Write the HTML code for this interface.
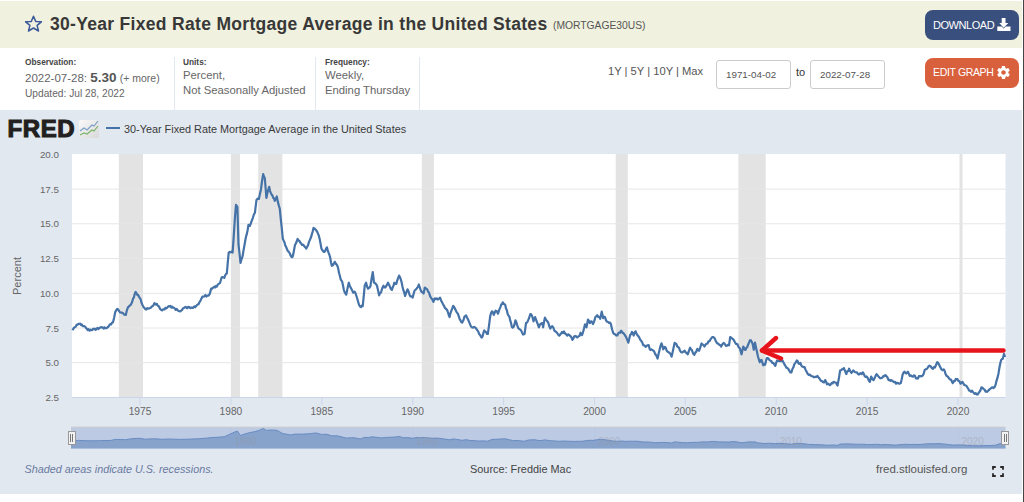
<!DOCTYPE html>
<html><head><meta charset="utf-8">
<style>
html,body{margin:0;padding:0;}
body{width:1024px;height:502px;position:relative;overflow:hidden;background:#fff;font-family:"Liberation Sans",sans-serif;color:#333;}
.a{position:absolute;white-space:nowrap;}
#hdr{left:0;top:1px;width:1022px;height:47px;background:#f0f1de;}
#vline{left:1023px;top:0;width:1px;height:502px;background:#444;}
#title{left:50px;top:13px;font-size:17.5px;font-weight:bold;color:#383838;letter-spacing:0.31px;line-height:22px;}
#sid{left:553px;top:19px;font-size:10.3px;color:#555;line-height:14px;}
.btn{left:925px;width:94px;height:30px;border-radius:8px;color:#fff;}
#dl{top:10px;background:#394f7d;}
#eg{top:58px;background:#d9603d;}
.btn span{position:absolute;left:8px;top:8px;font-size:11px;line-height:14px;letter-spacing:-0.45px;}
.lbl{font-size:8.3px;font-weight:bold;color:#444;line-height:10px;}
.val{font-size:11.3px;color:#666;line-height:15px;}
.sep{width:1px;background:#e3e8ee;}
#chart{left:0;top:110px;width:1022px;height:384px;background:#e1e8f0;}
.inp{top:60px;width:75px;height:29px;border:1px solid #ccc;border-radius:3px;background:#fff;box-sizing:border-box;}
.inp span{position:absolute;left:9px;top:8px;font-size:9.8px;color:#555;line-height:12px;}
</style></head><body>
<div id="hdr" class="a"></div>
<div id="vline" class="a"></div>
<svg class="a" style="left:24px;top:15px" width="19" height="18" viewBox="0 0 19 18"><path d="M9.5,1.2 L11.7,6.4 L17.4,6.8 L13.1,10.4 L14.5,16.0 L9.5,13.0 L4.5,16.0 L5.9,10.4 L1.6,6.8 L7.3,6.4 Z" fill="none" stroke="#3b5a9a" stroke-width="1.5" stroke-linejoin="round"/></svg>
<div id="title" class="a">30-Year Fixed Rate Mortgage Average in the United States</div>
<div id="sid" class="a">(MORTGAGE30US)</div>
<div id="dl" class="a btn"><span>DOWNLOAD</span>
<svg class="a" style="left:72px;top:8px" width="14" height="13" viewBox="0 0 14 13"><path d="M4.7,0 H8.5 V5 H11.4 L6.6,9.8 L2.3,5 H4.7 Z" fill="#fff"/><path d="M0.3,8.6 H4.6 L6.6,10.6 L8.6,8.6 H13.5 V12.9 H0.3 Z" fill="#fff"/></svg></div>
<div id="eg" class="a btn"><span style="font-size:10.5px;letter-spacing:-0.35px;top:6.5px">EDIT GRAPH</span>
<svg class="a" style="left:72px;top:8px" width="13" height="13" viewBox="2 2 20 20"><path fill="#fff" d="M19.4,13 C19.5,12.7 19.5,12.3 19.5,12 C19.5,11.7 19.5,11.3 19.4,11 L21.5,9.4 C21.7,9.2 21.7,9 21.6,8.8 L19.6,5.3 C19.5,5.1 19.2,5 19,5.1 L16.5,6.1 C16,5.7 15.4,5.4 14.8,5.1 L14.4,2.5 C14.4,2.2 14.2,2 14,2 H10 C9.8,2 9.6,2.2 9.5,2.4 L9.1,5.1 C8.5,5.3 8,5.7 7.4,6.1 L5,5.1 C4.8,5 4.5,5.1 4.4,5.3 L2.4,8.8 C2.3,9 2.3,9.2 2.5,9.4 L4.6,11 C4.5,11.3 4.5,11.7 4.5,12 C4.5,12.3 4.5,12.7 4.6,13 L2.5,14.6 C2.3,14.8 2.3,15 2.4,15.2 L4.4,18.7 C4.5,18.9 4.8,19 5,18.9 L7.5,17.9 C8,18.3 8.6,18.6 9.2,18.9 L9.6,21.5 C9.6,21.8 9.8,22 10,22 H14 C14.2,22 14.4,21.8 14.5,21.6 L14.9,18.9 C15.5,18.7 16,18.3 16.6,17.9 L19,18.9 C19.2,19 19.5,18.9 19.6,18.7 L21.6,15.2 C21.7,15 21.7,14.8 21.5,14.6 Z M12,15.5 C10.1,15.5 8.5,13.9 8.5,12 C8.5,10.1 10.1,8.5 12,8.5 C13.9,8.5 15.5,10.1 15.5,12 C15.5,13.9 13.9,15.5 12,15.5 Z"/></svg></div>

<div class="a lbl" style="left:25px;top:57px">Observation:</div>
<div class="a" style="left:25px;top:70px;font-size:11.5px;color:#666;line-height:15px">2022-07-28: <span style="font-size:13.5px;font-weight:bold;color:#555">5.30</span> <span style="font-size:10.5px">(+ more)</span></div>
<div class="a" style="left:25px;top:88px;font-size:10.2px;color:#666;line-height:12px">Updated: Jul 28, 2022</div>
<div class="a sep" style="left:174px;top:57px;height:54px"></div>
<div class="a lbl" style="left:183px;top:57px">Units:</div>
<div class="a val" style="left:183px;top:68px">Percent,<br>Not Seasonally Adjusted</div>
<div class="a sep" style="left:315px;top:57px;height:54px"></div>
<div class="a lbl" style="left:325px;top:57px">Frequency:</div>
<div class="a val" style="left:325px;top:68px">Weekly,<br>Ending Thursday</div>
<div class="a sep" style="left:419px;top:57px;height:54px"></div>

<div class="a" style="left:608px;top:65px;font-size:11.2px;color:#555;line-height:12px">1Y | 5Y | 10Y | Max</div>
<div class="a inp" style="left:716px"><span>1971-04-02</span></div>
<div class="a" style="left:796px;top:66px;font-size:11px;color:#333;line-height:12px">to</div>
<div class="a inp" style="left:810px"><span>2022-07-28</span></div>

<div id="chart" class="a"></div>
<svg class="a" style="left:0;top:0" width="1024" height="502" viewBox="0 0 1024 502">
<rect x="72" y="154" width="933.5" height="243" fill="#fff"/>
<rect x="118.8" y="154" width="24.2" height="243" fill="#e3e3e3"/><rect x="230.9" y="154" width="9.1" height="243" fill="#e3e3e3"/><rect x="258.2" y="154" width="24.2" height="243" fill="#e3e3e3"/><rect x="421.8" y="154" width="12.1" height="243" fill="#e3e3e3"/><rect x="615.7" y="154" width="12.1" height="243" fill="#e3e3e3"/><rect x="738.4" y="154" width="27.3" height="243" fill="#e3e3e3"/><rect x="959.5" y="154" width="3.0" height="243" fill="#e3e3e3"/>
<line x1="72" x2="1005.5" y1="362.7" y2="362.7" stroke="#e6e6e6" stroke-width="1"/><line x1="72" x2="1005.5" y1="328.0" y2="328.0" stroke="#e6e6e6" stroke-width="1"/><line x1="72" x2="1005.5" y1="293.3" y2="293.3" stroke="#e6e6e6" stroke-width="1"/><line x1="72" x2="1005.5" y1="258.5" y2="258.5" stroke="#e6e6e6" stroke-width="1"/><line x1="72" x2="1005.5" y1="223.8" y2="223.8" stroke="#e6e6e6" stroke-width="1"/><line x1="72" x2="1005.5" y1="189.1" y2="189.1" stroke="#e6e6e6" stroke-width="1"/>
<line x1="72" x2="1005.5" y1="397.5" y2="397.5" stroke="#ccd6eb" stroke-width="1"/>
<g font-family="Liberation Sans" font-size="9.8" fill="#666"><text x="59" y="401.0" text-anchor="end">2.5</text><text x="59" y="366.3" text-anchor="end">5.0</text><text x="59" y="331.6" text-anchor="end">7.5</text><text x="59" y="296.9" text-anchor="end">10.0</text><text x="59" y="262.1" text-anchor="end">12.5</text><text x="59" y="227.4" text-anchor="end">15.0</text><text x="59" y="192.7" text-anchor="end">17.5</text><text x="59" y="158.0" text-anchor="end">20.0</text></g>
<g font-family="Liberation Sans" font-size="10.2" fill="#666"><line x1="140.0" x2="140.0" y1="397" y2="405" stroke="#ccd6eb" stroke-width="1"/><text x="140.0" y="414.5" text-anchor="middle">1975</text><line x1="230.9" x2="230.9" y1="397" y2="405" stroke="#ccd6eb" stroke-width="1"/><text x="230.9" y="414.5" text-anchor="middle">1980</text><line x1="321.8" x2="321.8" y1="397" y2="405" stroke="#ccd6eb" stroke-width="1"/><text x="321.8" y="414.5" text-anchor="middle">1985</text><line x1="412.7" x2="412.7" y1="397" y2="405" stroke="#ccd6eb" stroke-width="1"/><text x="412.7" y="414.5" text-anchor="middle">1990</text><line x1="503.6" x2="503.6" y1="397" y2="405" stroke="#ccd6eb" stroke-width="1"/><text x="503.6" y="414.5" text-anchor="middle">1995</text><line x1="594.5" x2="594.5" y1="397" y2="405" stroke="#ccd6eb" stroke-width="1"/><text x="594.5" y="414.5" text-anchor="middle">2000</text><line x1="685.3" x2="685.3" y1="397" y2="405" stroke="#ccd6eb" stroke-width="1"/><text x="685.3" y="414.5" text-anchor="middle">2005</text><line x1="776.2" x2="776.2" y1="397" y2="405" stroke="#ccd6eb" stroke-width="1"/><text x="776.2" y="414.5" text-anchor="middle">2010</text><line x1="867.1" x2="867.1" y1="397" y2="405" stroke="#ccd6eb" stroke-width="1"/><text x="867.1" y="414.5" text-anchor="middle">2015</text><line x1="958.0" x2="958.0" y1="397" y2="405" stroke="#ccd6eb" stroke-width="1"/><text x="958.0" y="414.5" text-anchor="middle">2020</text></g>
<text x="21" y="276" transform="rotate(-90 21 276)" text-anchor="middle" font-family="Liberation Sans" font-size="11" fill="#666">Percent</text>
<path d="M72.5,330.3 L73.3,328.9 L74.1,327.5 L74.9,327.2 L75.8,326.6 L76.8,324.6 L77.7,324.6 L78.6,323.7 L79.4,323.9 L80.2,323.7 L81.0,325.0 L81.8,324.5 L82.6,325.8 L83.4,326.2 L84.2,326.1 L85.1,326.7 L85.9,327.9 L86.7,328.6 L87.6,330.0 L88.6,329.2 L89.5,330.7 L90.4,329.7 L91.2,330.1 L92.1,330.2 L93.0,328.9 L93.9,329.1 L94.8,328.7 L95.6,329.9 L96.5,329.0 L97.4,327.8 L98.4,329.1 L99.3,328.0 L100.2,327.6 L101.0,327.3 L101.9,327.2 L102.7,327.6 L103.6,328.6 L104.4,327.3 L105.3,328.1 L106.1,328.2 L107.0,327.9 L107.8,326.9 L108.6,326.6 L109.5,324.9 L110.3,324.2 L111.1,324.4 L112.0,322.8 L113.0,322.3 L114.2,317.4 L115.3,311.8 L116.3,310.2 L117.4,308.8 L118.3,309.7 L119.3,311.4 L120.2,312.5 L121.1,312.6 L122.1,312.6 L123.0,313.2 L123.9,314.4 L124.9,314.7 L125.8,314.9 L126.8,310.6 L127.9,307.4 L128.8,306.6 L129.7,305.5 L130.5,305.2 L131.4,303.5 L132.2,301.7 L133.1,298.5 L133.9,297.6 L134.8,293.5 L135.6,292.0 L136.4,293.0 L137.2,294.9 L138.1,294.8 L138.9,296.7 L139.7,297.9 L140.6,299.1 L141.4,302.4 L142.3,304.7 L143.2,306.3 L144.2,307.8 L145.3,309.0 L146.2,309.5 L147.2,308.2 L148.1,308.7 L149.0,308.3 L150.0,308.1 L150.9,307.7 L151.8,306.5 L152.7,306.1 L153.5,305.2 L154.4,303.2 L155.2,303.7 L156.1,304.6 L156.9,304.0 L157.8,305.8 L158.6,306.0 L159.4,307.4 L160.3,309.2 L161.2,309.9 L162.0,310.4 L162.8,309.6 L163.7,309.4 L164.5,309.5 L165.4,307.8 L166.2,308.4 L167.1,307.8 L167.9,306.8 L168.8,306.2 L169.7,306.5 L170.5,305.9 L171.3,307.6 L172.2,306.7 L173.0,307.7 L173.9,307.7 L174.8,308.5 L175.7,309.9 L176.6,308.9 L177.5,310.1 L178.4,310.8 L179.3,311.2 L180.2,311.4 L181.1,310.6 L182.0,310.1 L183.0,308.3 L183.9,308.0 L184.8,307.2 L185.7,306.9 L186.5,307.9 L187.3,308.2 L188.1,306.9 L188.9,307.1 L189.7,307.4 L190.5,308.2 L191.3,307.5 L192.1,307.8 L192.9,307.9 L193.7,307.1 L194.5,306.4 L195.3,307.2 L196.1,306.1 L196.9,305.1 L197.7,304.5 L198.5,304.3 L199.3,302.5 L200.4,300.9 L201.4,298.6 L202.5,296.6 L203.4,296.6 L204.4,296.5 L205.3,295.0 L206.3,296.5 L207.2,295.5 L208.0,295.6 L208.8,295.4 L209.6,294.2 L211.2,288.6 L212.0,288.9 L212.8,287.8 L213.6,287.5 L214.4,286.6 L215.2,287.4 L216.0,285.9 L216.8,286.5 L217.9,284.5 L218.9,283.6 L220.0,283.0 L221.6,277.5 L222.5,277.0 L223.4,277.4 L224.3,277.9 L225.1,275.5 L226.0,274.0 L226.8,273.5 L227.8,262.4 L228.7,252.7 L229.7,251.9 L230.6,252.4 L231.6,251.7 L232.6,252.6 L233.4,241.4 L234.2,229.0 L235.0,216.8 L236.0,204.8 L237.4,206.8 L238.5,244.7 L239.5,253.1 L240.5,263.0 L241.5,259.3 L242.5,256.6 L243.3,251.7 L244.1,247.1 L244.9,242.7 L245.8,237.5 L246.7,234.4 L247.6,230.3 L248.5,224.8 L249.9,225.8 L250.9,223.1 L251.9,220.4 L252.9,217.8 L253.9,214.5 L254.9,212.8 L256.5,199.9 L257.7,198.6 L258.9,198.9 L259.9,194.1 L260.9,189.9 L262.0,181.5 L263.2,174.0 L264.0,176.7 L264.8,178.0 L266.4,197.9 L267.3,193.6 L268.3,189.6 L269.2,186.9 L270.0,190.8 L270.8,192.9 L271.6,194.6 L272.4,195.4 L273.2,197.8 L274.0,198.4 L274.8,200.9 L275.8,198.8 L276.8,196.5 L277.8,201.6 L278.8,205.4 L279.8,208.8 L280.8,219.2 L281.8,228.3 L282.8,238.7 L283.6,240.4 L284.4,242.0 L285.2,245.2 L286.0,246.8 L286.8,248.7 L287.8,251.0 L288.8,251.8 L289.7,253.3 L290.7,255.6 L291.5,257.0 L292.4,257.2 L293.3,254.1 L294.1,249.7 L295.0,244.9 L295.9,243.5 L296.7,241.5 L297.6,238.9 L298.5,240.6 L299.4,240.8 L300.2,242.5 L301.1,243.4 L302.0,244.9 L302.9,244.7 L303.7,245.4 L304.6,246.6 L305.4,247.3 L306.3,248.5 L307.2,246.7 L308.1,245.1 L309.0,241.9 L309.9,239.9 L310.8,237.8 L311.7,234.9 L312.6,231.8 L313.5,227.9 L314.7,228.6 L315.9,229.9 L316.9,231.3 L317.9,233.4 L318.9,235.9 L319.8,239.6 L320.6,244.0 L321.5,248.9 L322.4,250.1 L323.4,251.7 L324.3,251.9 L325.2,251.0 L326.0,248.8 L326.9,247.3 L327.7,250.1 L328.6,252.9 L329.4,254.8 L330.2,257.6 L331.0,262.5 L331.8,265.8 L332.8,265.3 L333.8,263.7 L334.8,261.8 L335.7,263.6 L336.5,264.4 L337.4,265.8 L338.2,268.6 L339.1,273.3 L339.9,275.9 L340.8,279.7 L342.2,281.7 L343.1,286.0 L343.9,290.0 L344.8,292.7 L346.2,294.7 L347.1,290.5 L347.9,286.5 L348.8,282.7 L349.8,285.9 L350.8,287.8 L351.8,289.7 L353.3,292.7 L354.7,291.7 L355.6,293.5 L356.4,296.0 L357.2,298.5 L358.1,301.7 L359.1,305.0 L360.1,306.6 L361.0,307.1 L361.8,305.6 L362.7,306.2 L363.7,296.6 L364.7,285.7 L366.1,282.7 L367.1,286.7 L368.1,288.7 L369.2,287.8 L370.4,286.3 L371.6,278.5 L372.8,272.0 L374.0,282.7 L374.9,283.0 L375.8,283.9 L377.0,285.7 L378.1,290.6 L379.1,295.3 L380.1,293.1 L381.1,292.3 L382.3,288.0 L383.5,285.7 L384.4,287.5 L385.3,287.5 L386.2,286.2 L387.1,284.4 L388.0,282.7 L389.5,285.7 L390.7,288.7 L391.9,289.9 L392.7,287.4 L393.5,285.8 L394.3,282.7 L395.3,284.0 L396.3,283.9 L397.2,280.6 L398.2,277.9 L399.1,275.6 L400.0,277.2 L400.9,279.7 L401.7,282.6 L402.5,286.7 L403.3,289.9 L404.2,292.4 L405.1,295.9 L406.3,292.4 L407.5,289.3 L408.5,291.3 L409.5,294.7 L410.5,296.5 L411.6,296.4 L412.6,297.7 L413.6,294.0 L414.6,290.5 L415.8,289.5 L417.0,288.1 L417.9,287.1 L418.8,284.5 L419.7,287.0 L420.6,289.9 L421.6,291.9 L422.6,292.3 L423.6,293.5 L424.8,287.5 L426.0,288.5 L427.2,289.3 L428.2,291.7 L429.2,293.1 L430.2,296.5 L431.3,298.2 L432.3,299.5 L433.4,301.9 L434.2,299.1 L435.0,298.3 L436.0,299.3 L437.0,298.4 L438.0,299.5 L439.1,298.5 L440.1,297.7 L441.2,300.8 L442.4,302.9 L443.2,304.6 L444.0,305.8 L444.8,307.7 L446.0,308.9 L447.2,310.1 L448.0,312.5 L448.8,315.3 L449.6,317.1 L450.5,313.1 L451.4,310.7 L452.3,308.4 L453.2,305.9 L454.0,306.8 L454.8,308.3 L455.6,310.1 L456.8,312.4 L457.9,313.7 L458.8,316.4 L459.7,319.1 L460.5,320.4 L461.3,322.0 L462.1,322.7 L463.3,320.5 L464.5,316.7 L465.3,316.0 L466.1,315.5 L467.0,317.5 L467.8,319.1 L468.7,320.9 L469.8,323.6 L470.9,326.3 L472.1,327.5 L473.1,327.6 L474.1,326.9 L475.0,327.4 L475.9,328.1 L476.7,329.4 L477.5,330.5 L478.3,331.7 L479.2,334.1 L480.1,335.0 L481.0,336.9 L481.9,337.6 L482.7,336.1 L483.5,332.4 L484.3,330.5 L485.2,331.5 L486.1,332.2 L487.0,334.0 L487.8,334.0 L489.0,325.7 L490.2,316.1 L491.1,313.0 L492.0,311.3 L492.9,312.3 L493.8,314.9 L494.7,312.7 L495.6,310.7 L496.8,311.3 L498.0,313.7 L499.2,309.9 L500.4,307.1 L501.2,304.6 L502.0,304.2 L502.8,302.3 L504.0,304.1 L505.2,304.7 L506.0,308.5 L506.8,310.0 L507.6,313.7 L508.5,315.6 L509.4,316.7 L510.2,320.4 L511.0,322.8 L511.8,326.9 L512.7,327.7 L513.6,326.9 L514.5,324.5 L515.4,320.3 L516.3,322.1 L517.2,325.1 L518.2,328.0 L519.2,329.1 L520.1,329.5 L521.0,330.3 L522.0,332.4 L523.1,334.5 L524.6,333.9 L526.0,323.1 L527.1,322.6 L528.2,320.1 L529.2,317.8 L530.3,314.1 L531.3,314.6 L532.3,316.5 L533.5,321.3 L534.3,319.1 L535.1,317.1 L536.1,319.8 L537.1,322.5 L538.0,324.6 L538.9,327.3 L539.8,324.9 L540.7,323.7 L542.3,323.1 L543.1,327.3 L544.0,322.1 L544.9,317.7 L546.1,319.9 L547.3,321.3 L548.3,322.7 L549.3,326.2 L550.3,328.5 L551.2,327.2 L552.1,326.1 L553.3,327.5 L554.5,330.9 L555.7,331.5 L556.9,332.7 L558.1,334.4 L559.3,335.7 L560.2,334.5 L561.1,333.3 L562.1,331.8 L563.0,333.1 L564.0,331.5 L565.2,333.6 L566.4,334.5 L567.3,335.7 L568.2,334.3 L569.1,334.9 L570.0,335.7 L571.2,336.9 L572.4,339.9 L573.3,338.7 L574.2,336.3 L575.2,336.2 L576.2,336.4 L577.2,337.5 L578.4,336.4 L579.6,335.7 L580.6,332.7 L582.0,335.1 L583.0,332.3 L584.0,328.5 L585.0,324.3 L586.5,327.3 L588.0,319.5 L588.9,320.8 L589.8,323.1 L590.7,321.5 L591.6,321.3 L593.0,324.1 L594.2,321.4 L595.4,317.0 L596.3,316.2 L597.2,315.2 L598.2,316.8 L599.2,316.8 L600.2,318.8 L601.7,311.6 L603.2,318.2 L604.1,316.7 L605.0,317.0 L606.1,320.6 L607.1,321.7 L608.1,322.0 L609.1,322.9 L610.0,322.6 L610.9,324.1 L612.1,329.5 L613.3,333.1 L614.2,334.0 L615.1,334.3 L616.2,335.5 L617.3,335.5 L618.3,333.2 L619.3,332.5 L620.1,332.8 L620.9,330.8 L621.7,331.3 L622.6,332.9 L623.5,333.1 L624.7,334.8 L625.9,336.7 L627.1,339.4 L628.3,342.7 L629.2,338.9 L630.1,334.9 L631.0,334.3 L631.9,331.9 L632.8,333.2 L633.7,335.5 L634.6,332.7 L635.5,331.3 L636.4,333.2 L637.2,334.9 L638.2,336.0 L639.2,337.3 L640.2,339.7 L641.2,340.8 L642.2,342.4 L643.2,345.1 L644.4,345.4 L645.6,346.9 L646.6,345.9 L647.6,345.3 L648.6,345.1 L649.8,349.3 L650.6,350.0 L651.4,349.3 L652.2,349.9 L653.1,350.5 L654.0,351.1 L655.2,354.0 L656.4,355.7 L657.6,358.6 L658.5,354.2 L659.4,350.5 L660.5,345.9 L661.5,343.3 L662.4,345.8 L663.2,349.3 L664.8,346.9 L665.7,347.7 L666.6,350.5 L667.7,351.8 L668.7,352.3 L669.8,353.1 L670.7,354.3 L671.6,356.7 L673.1,350.1 L674.6,342.9 L675.5,343.4 L676.4,344.1 L677.3,346.5 L678.2,347.1 L679.1,348.1 L680.0,350.7 L681.1,352.2 L682.3,352.5 L683.1,351.8 L683.9,351.3 L684.7,350.7 L685.7,352.6 L686.7,352.9 L687.7,354.3 L688.9,351.0 L690.1,347.7 L691.0,349.3 L691.9,350.1 L693.1,353.5 L694.3,354.9 L695.3,352.6 L696.3,351.6 L697.3,348.9 L698.2,350.2 L699.1,350.7 L700.3,347.4 L701.5,343.5 L702.5,344.3 L703.5,345.2 L704.5,346.5 L705.5,344.6 L706.5,343.8 L707.5,343.5 L708.5,341.3 L709.5,341.2 L710.5,339.4 L711.5,338.1 L712.4,337.1 L713.4,337.0 L714.6,338.2 L715.8,341.1 L716.6,342.6 L717.4,343.4 L718.2,343.5 L719.2,344.8 L720.2,345.1 L721.2,346.5 L722.4,344.2 L723.6,342.9 L724.8,344.0 L726.0,345.9 L727.0,345.6 L728.0,344.8 L729.0,345.3 L730.2,337.0 L731.4,337.8 L732.6,338.8 L733.8,340.1 L735.0,342.3 L736.2,344.1 L737.4,344.1 L738.6,347.1 L739.8,348.3 L740.7,351.4 L741.6,354.3 L742.5,349.9 L743.3,346.5 L744.8,349.7 L745.6,349.8 L746.4,347.7 L747.2,347.3 L748.1,344.7 L749.0,342.6 L749.9,340.4 L750.8,340.2 L751.7,341.8 L752.6,343.8 L753.8,349.7 L755.0,342.6 L756.1,347.9 L757.0,352.0 L757.9,356.3 L758.8,359.3 L759.7,362.3 L760.6,360.5 L761.5,359.9 L762.4,362.6 L763.3,365.3 L764.2,364.0 L765.1,364.7 L766.0,360.9 L766.9,358.1 L768.1,358.2 L769.3,359.9 L770.3,360.7 L771.3,361.0 L772.3,362.9 L773.3,362.9 L774.3,364.5 L775.3,365.9 L776.2,362.7 L777.1,360.5 L778.3,361.0 L779.5,361.1 L780.5,361.0 L781.5,361.2 L782.5,360.5 L783.5,362.6 L784.5,364.5 L785.5,365.9 L786.4,367.7 L787.2,367.8 L788.1,368.7 L789.0,370.1 L790.2,372.3 L791.4,372.5 L792.4,369.0 L793.4,367.3 L794.4,364.1 L795.6,362.6 L796.8,360.5 L797.7,361.1 L798.6,363.5 L799.5,363.9 L800.4,362.9 L801.3,365.5 L802.2,366.5 L803.4,367.1 L804.6,367.1 L805.5,369.7 L806.4,371.3 L807.6,373.7 L808.8,374.9 L809.8,374.6 L810.8,375.7 L811.8,376.1 L812.7,376.3 L813.6,377.1 L814.5,377.2 L815.4,376.7 L816.4,377.0 L817.4,375.9 L818.6,377.6 L819.8,378.9 L820.6,380.5 L821.4,380.9 L822.2,381.3 L823.1,382.3 L824.0,382.5 L825.2,380.1 L826.1,381.7 L827.0,384.3 L828.0,383.7 L829.0,384.2 L830.0,385.2 L830.9,384.1 L831.8,382.8 L832.6,383.4 L833.5,381.9 L834.7,382.3 L835.9,382.5 L836.7,384.3 L837.5,385.5 L838.9,378.3 L840.1,370.5 L841.0,370.2 L841.9,369.3 L842.9,369.1 L843.9,368.1 L845.1,371.1 L846.3,374.1 L847.2,371.3 L848.2,371.1 L849.1,368.7 L850.3,371.3 L851.5,372.9 L852.4,371.7 L853.3,370.5 L854.1,371.2 L854.9,372.0 L855.7,372.3 L856.9,372.3 L858.1,374.1 L859.0,374.6 L859.9,373.6 L860.8,373.2 L861.7,374.1 L862.8,372.3 L863.7,373.6 L864.6,375.9 L865.6,377.0 L866.6,376.5 L867.6,377.7 L868.7,380.3 L869.8,381.9 L871.2,376.5 L872.4,379.3 L873.6,380.1 L874.6,378.1 L875.6,375.9 L876.6,374.1 L877.8,375.6 L879.0,377.1 L879.9,378.1 L880.8,378.3 L881.8,378.0 L882.8,376.9 L883.8,375.9 L884.6,376.2 L885.4,375.1 L886.2,375.9 L887.4,377.3 L888.6,380.1 L889.5,379.8 L890.4,380.9 L891.3,380.2 L892.2,380.7 L893.0,381.3 L894.0,382.2 L895.0,381.9 L896.0,383.7 L897.0,382.7 L897.9,383.0 L898.9,383.7 L899.8,383.6 L900.8,383.1 L901.7,379.3 L902.6,374.7 L903.5,372.8 L904.4,371.7 L905.2,372.6 L906.1,373.5 L907.0,372.5 L907.9,371.7 L908.8,373.7 L909.7,375.9 L910.9,375.4 L912.1,376.5 L913.0,376.7 L913.9,375.3 L914.9,375.7 L915.9,378.3 L916.9,378.3 L917.9,378.6 L918.9,376.1 L919.9,376.5 L920.9,376.0 L921.9,376.3 L922.9,375.3 L923.8,373.5 L924.7,369.9 L925.9,369.2 L927.1,368.7 L928.3,366.7 L929.5,365.7 L930.7,366.3 L931.9,368.1 L932.9,368.8 L933.9,367.1 L934.9,367.5 L936.0,365.0 L937.2,362.1 L938.1,362.6 L939.0,364.5 L940.2,366.9 L941.4,369.3 L942.6,370.2 L943.8,369.3 L944.7,371.0 L945.6,374.1 L946.6,375.9 L947.6,376.5 L948.6,377.7 L949.8,379.4 L951.0,379.5 L951.9,381.7 L952.8,383.1 L953.8,381.2 L954.8,381.1 L955.8,378.9 L956.6,379.5 L957.4,379.1 L958.2,380.7 L959.4,381.2 L960.6,383.7 L961.5,382.8 L962.4,381.9 L963.3,383.3 L964.2,384.9 L965.2,385.3 L966.2,385.7 L967.2,387.2 L968.2,388.6 L969.1,390.6 L970.0,390.6 L971.0,391.9 L972.0,390.6 L972.9,391.9 L973.9,393.1 L974.8,393.9 L975.8,393.1 L976.8,394.5 L977.7,394.5 L978.5,393.2 L979.4,391.9 L980.4,390.5 L981.4,387.4 L982.2,387.6 L983.1,388.4 L983.9,389.3 L984.7,389.7 L985.5,391.6 L986.4,391.4 L987.2,391.9 L988.3,390.6 L989.3,389.6 L990.4,388.7 L991.2,388.1 L992.0,387.4 L992.8,387.4 L993.6,388.0 L994.6,387.1 L995.6,384.8 L996.5,380.8 L997.5,377.7 L998.5,373.4 L999.5,367.3 L1000.3,363.2 L1001.1,360.2 L1001.9,359.1 L1002.7,358.9 L1004.0,353.8 L1005.0,357.0" fill="none" stroke="#4572a7" stroke-width="2.2" stroke-linejoin="round"/>
<!-- navigator -->
<rect x="71" y="426.8" width="934.5" height="21.69999999999999" fill="#bccae4"/>
<line x1="71" x2="1005.5" y1="427.3" y2="427.3" stroke="#cccccc" stroke-width="1"/>
<line x1="231.4" x2="231.4" y1="426.8" y2="448.5" stroke="#aab6cc" stroke-width="1" opacity="0.12"/><line x1="413.2" x2="413.2" y1="426.8" y2="448.5" stroke="#aab6cc" stroke-width="1" opacity="0.12"/><line x1="595.0" x2="595.0" y1="426.8" y2="448.5" stroke="#aab6cc" stroke-width="1" opacity="0.12"/><line x1="776.7" x2="776.7" y1="426.8" y2="448.5" stroke="#aab6cc" stroke-width="1" opacity="0.12"/><line x1="958.5" x2="958.5" y1="426.8" y2="448.5" stroke="#aab6cc" stroke-width="1" opacity="0.12"/>
<path d="M71,440.9 L72.5,440.9 L78.6,440.4 L86.7,440.7 L93.0,440.8 L99.3,440.7 L111.1,440.4 L115.3,439.4 L120.2,439.5 L125.8,439.7 L131.4,438.7 L139.7,438.3 L145.3,439.2 L154.4,438.7 L162.0,439.3 L169.7,439.0 L179.3,439.4 L190.5,439.1 L199.3,438.7 L207.2,438.1 L211.2,437.6 L220.0,437.1 L224.3,436.7 L228.7,434.7 L235.0,431.9 L237.4,431.1 L240.5,435.5 L244.9,433.9 L249.9,432.6 L254.9,431.6 L258.9,430.5 L263.2,428.5 L266.4,430.4 L270.8,430.0 L276.8,430.3 L282.8,433.6 L290.7,434.9 L295.0,434.1 L302.0,434.1 L309.9,433.7 L315.9,432.9 L321.5,434.4 L326.9,434.3 L331.8,435.8 L337.4,435.8 L342.2,437.0 L346.2,438.1 L351.8,437.7 L354.7,437.8 L360.1,439.0 L364.7,437.3 L368.1,437.6 L371.6,436.8 L374.0,437.1 L377.0,437.3 L381.1,437.9 L385.3,437.5 L389.5,437.3 L394.3,437.1 L399.1,436.5 L403.3,437.7 L407.5,437.6 L412.6,438.3 L417.0,437.5 L420.6,437.7 L424.8,437.5 L430.2,438.2 L435.0,438.3 L440.1,438.3 L444.8,439.1 L449.6,439.8 L453.2,438.9 L457.9,439.6 L462.1,440.3 L466.1,439.7 L470.9,440.6 L474.1,440.6 L478.3,441.0 L484.3,440.9 L487.8,441.2 L492.0,439.4 L495.6,439.3 L500.4,439.0 L505.2,438.8 L509.4,439.8 L513.6,440.6 L517.2,440.5 L521.0,440.9 L524.6,441.2 L528.2,440.1 L532.3,439.8 L535.1,439.8 L538.9,440.6 L542.3,440.3 L544.9,439.9 L550.3,440.7 L554.5,440.9 L559.3,441.3 L564.0,441.0 L570.0,441.3 L574.2,441.4 L579.6,441.3 L582.0,441.3 L586.5,440.6 L589.8,440.3 L593.0,440.4 L597.2,439.7 L601.7,439.4 L605.0,439.8 L609.1,440.3 L613.3,441.1 L617.3,441.3 L621.7,441.0 L625.9,441.4 L630.1,441.2 L633.7,441.3 L637.2,441.2 L643.2,442.0 L648.6,442.0 L652.2,442.4 L655.2,442.8 L659.4,442.5 L663.2,442.4 L666.6,442.5 L671.6,443.0 L674.6,441.9 L678.2,442.2 L682.3,442.6 L687.7,442.8 L691.9,442.4 L697.3,442.4 L701.5,441.9 L707.5,441.9 L713.4,441.4 L718.2,441.9 L723.6,441.9 L729.0,442.1 L732.6,441.5 L737.4,442.0 L741.6,442.8 L744.8,442.4 L749.0,441.9 L752.6,441.9 L755.0,441.9 L757.9,442.9 L761.5,443.2 L765.1,443.6 L769.3,443.2 L775.3,443.7 L779.5,443.3 L785.5,443.7 L791.4,444.2 L796.8,443.3 L800.4,443.5 L804.6,443.8 L808.8,444.4 L815.4,444.6 L819.8,444.7 L824.0,445.0 L827.0,445.2 L833.5,445.0 L837.5,445.3 L840.1,444.1 L843.9,443.9 L849.1,443.9 L853.3,444.1 L858.1,444.3 L862.8,444.2 L867.6,444.6 L871.2,444.5 L876.6,444.3 L880.8,444.7 L886.2,444.5 L892.2,444.9 L896.0,445.1 L902.6,444.4 L906.1,444.3 L909.7,444.5 L913.9,444.4 L919.9,444.5 L924.7,444.0 L929.5,443.7 L934.9,443.8 L939.0,443.6 L943.8,444.0 L948.6,444.6 L952.8,445.1 L958.2,444.9 L962.4,445.0 L967.2,445.4 L972.9,445.8 L979.4,445.8 L983.9,445.6 L990.4,445.5 L995.6,445.2 L999.5,443.8 L1002.7,443.1 L1005.0,443.0 L1005.5,448.5 L71,448.5 Z" fill="#87a2cb"/>
<path d="M72.5,440.9 L78.6,440.4 L86.7,440.7 L93.0,440.8 L99.3,440.7 L111.1,440.4 L115.3,439.4 L120.2,439.5 L125.8,439.7 L131.4,438.7 L139.7,438.3 L145.3,439.2 L154.4,438.7 L162.0,439.3 L169.7,439.0 L179.3,439.4 L190.5,439.1 L199.3,438.7 L207.2,438.1 L211.2,437.6 L220.0,437.1 L224.3,436.7 L228.7,434.7 L235.0,431.9 L237.4,431.1 L240.5,435.5 L244.9,433.9 L249.9,432.6 L254.9,431.6 L258.9,430.5 L263.2,428.5 L266.4,430.4 L270.8,430.0 L276.8,430.3 L282.8,433.6 L290.7,434.9 L295.0,434.1 L302.0,434.1 L309.9,433.7 L315.9,432.9 L321.5,434.4 L326.9,434.3 L331.8,435.8 L337.4,435.8 L342.2,437.0 L346.2,438.1 L351.8,437.7 L354.7,437.8 L360.1,439.0 L364.7,437.3 L368.1,437.6 L371.6,436.8 L374.0,437.1 L377.0,437.3 L381.1,437.9 L385.3,437.5 L389.5,437.3 L394.3,437.1 L399.1,436.5 L403.3,437.7 L407.5,437.6 L412.6,438.3 L417.0,437.5 L420.6,437.7 L424.8,437.5 L430.2,438.2 L435.0,438.3 L440.1,438.3 L444.8,439.1 L449.6,439.8 L453.2,438.9 L457.9,439.6 L462.1,440.3 L466.1,439.7 L470.9,440.6 L474.1,440.6 L478.3,441.0 L484.3,440.9 L487.8,441.2 L492.0,439.4 L495.6,439.3 L500.4,439.0 L505.2,438.8 L509.4,439.8 L513.6,440.6 L517.2,440.5 L521.0,440.9 L524.6,441.2 L528.2,440.1 L532.3,439.8 L535.1,439.8 L538.9,440.6 L542.3,440.3 L544.9,439.9 L550.3,440.7 L554.5,440.9 L559.3,441.3 L564.0,441.0 L570.0,441.3 L574.2,441.4 L579.6,441.3 L582.0,441.3 L586.5,440.6 L589.8,440.3 L593.0,440.4 L597.2,439.7 L601.7,439.4 L605.0,439.8 L609.1,440.3 L613.3,441.1 L617.3,441.3 L621.7,441.0 L625.9,441.4 L630.1,441.2 L633.7,441.3 L637.2,441.2 L643.2,442.0 L648.6,442.0 L652.2,442.4 L655.2,442.8 L659.4,442.5 L663.2,442.4 L666.6,442.5 L671.6,443.0 L674.6,441.9 L678.2,442.2 L682.3,442.6 L687.7,442.8 L691.9,442.4 L697.3,442.4 L701.5,441.9 L707.5,441.9 L713.4,441.4 L718.2,441.9 L723.6,441.9 L729.0,442.1 L732.6,441.5 L737.4,442.0 L741.6,442.8 L744.8,442.4 L749.0,441.9 L752.6,441.9 L755.0,441.9 L757.9,442.9 L761.5,443.2 L765.1,443.6 L769.3,443.2 L775.3,443.7 L779.5,443.3 L785.5,443.7 L791.4,444.2 L796.8,443.3 L800.4,443.5 L804.6,443.8 L808.8,444.4 L815.4,444.6 L819.8,444.7 L824.0,445.0 L827.0,445.2 L833.5,445.0 L837.5,445.3 L840.1,444.1 L843.9,443.9 L849.1,443.9 L853.3,444.1 L858.1,444.3 L862.8,444.2 L867.6,444.6 L871.2,444.5 L876.6,444.3 L880.8,444.7 L886.2,444.5 L892.2,444.9 L896.0,445.1 L902.6,444.4 L906.1,444.3 L909.7,444.5 L913.9,444.4 L919.9,444.5 L924.7,444.0 L929.5,443.7 L934.9,443.8 L939.0,443.6 L943.8,444.0 L948.6,444.6 L952.8,445.1 L958.2,444.9 L962.4,445.0 L967.2,445.4 L972.9,445.8 L979.4,445.8 L983.9,445.6 L990.4,445.5 L995.6,445.2 L999.5,443.8 L1002.7,443.1 L1005.0,443.0" fill="none" stroke="#6a8cc2" stroke-width="1"/>
<g font-family="Liberation Sans" font-size="10" fill="#999" opacity="0.7"><text x="234.4" y="445" fill="#999" fill-opacity="0.6">1980</text><text x="416.2" y="445" fill="#999" fill-opacity="0.6">1990</text><text x="598.0" y="445" fill="#999" fill-opacity="0.6">2000</text><text x="779.7" y="445" fill="#999" fill-opacity="0.6">2010</text><text x="961.5" y="445" fill="#999" fill-opacity="0.6">2020</text></g>
<rect x="68.5" y="431.5" width="7" height="13" fill="#f2f2f2" stroke="#999" stroke-width="1"/>
<line x1="70.5" x2="70.5" y1="434" y2="442" stroke="#777"/><line x1="72.5" x2="72.5" y1="434" y2="442" stroke="#777"/>
<rect x="1001.5" y="431.5" width="7" height="13" fill="#f2f2f2" stroke="#999" stroke-width="1"/>
<line x1="1004.5" x2="1004.5" y1="434" y2="442" stroke="#777"/><line x1="1006.5" x2="1006.5" y1="434" y2="442" stroke="#777"/>
<!-- red arrow -->
<g stroke="#e8141c" stroke-width="4.4" stroke-linecap="round" fill="none">
<line x1="763" y1="350.5" x2="1003.5" y2="350.5"/>
<line x1="762" y1="350.5" x2="776" y2="338"/>
<line x1="762" y1="350.5" x2="781" y2="358.5"/>
</g>
</svg>

<div class="a" style="left:7.5px;top:119px;width:70px;height:20px;font-size:24px;font-weight:bold;color:#231f20;line-height:20px;letter-spacing:0.6px;-webkit-text-stroke:1.1px #231f20">FRED</div>
<svg class="a" style="left:79px;top:120px" width="20" height="18" viewBox="0 0 20 18">
<defs><linearGradient id="g1" x1="0" y1="0" x2="1" y2="1"><stop offset="0" stop-color="#fafafa"/><stop offset="1" stop-color="#d8d8d8"/></linearGradient></defs>
<rect x="0" y="0" width="20" height="18" rx="2" fill="url(#g1)"/>
<polyline points="1,11 5,8 8,10 13,5 15,6 19,1" fill="none" stroke="#7b9fc4" stroke-width="1.2"/>
<polyline points="1,15 5,13 8,14 13,10 15,11 19,6" fill="none" stroke="#7cb36a" stroke-width="1.2"/>
</svg>
<div class="a" style="left:106px;top:127px;width:14px;height:2px;background:#4572a7"></div>
<div class="a" style="left:124px;top:122.5px;font-size:10.85px;color:#3a3a3a;line-height:13px">30-Year Fixed Rate Mortgage Average in the United States</div>

<div class="a" style="left:24.5px;top:463px;font-size:10.8px;font-style:italic;color:#6a7aa0;line-height:13px">Shaded areas indicate U.S. recessions.</div>
<div class="a" style="left:470px;top:463px;font-size:10.9px;color:#444;line-height:13px">Source: Freddie Mac</div>
<div class="a" style="left:876px;top:463px;font-size:11.5px;color:#555;line-height:13px">fred.stlouisfed.org</div>
<svg class="a" style="left:992px;top:465.5px" width="12" height="11" viewBox="0 0 12 11"><path d="M1,3.8 V1 H3.8 M8.2,1 H11 V3.8 M11,7.2 V10 H8.2 M3.8,10 H1 V7.2" fill="none" stroke="#282828" stroke-width="1.8"/></svg>
</body></html>
